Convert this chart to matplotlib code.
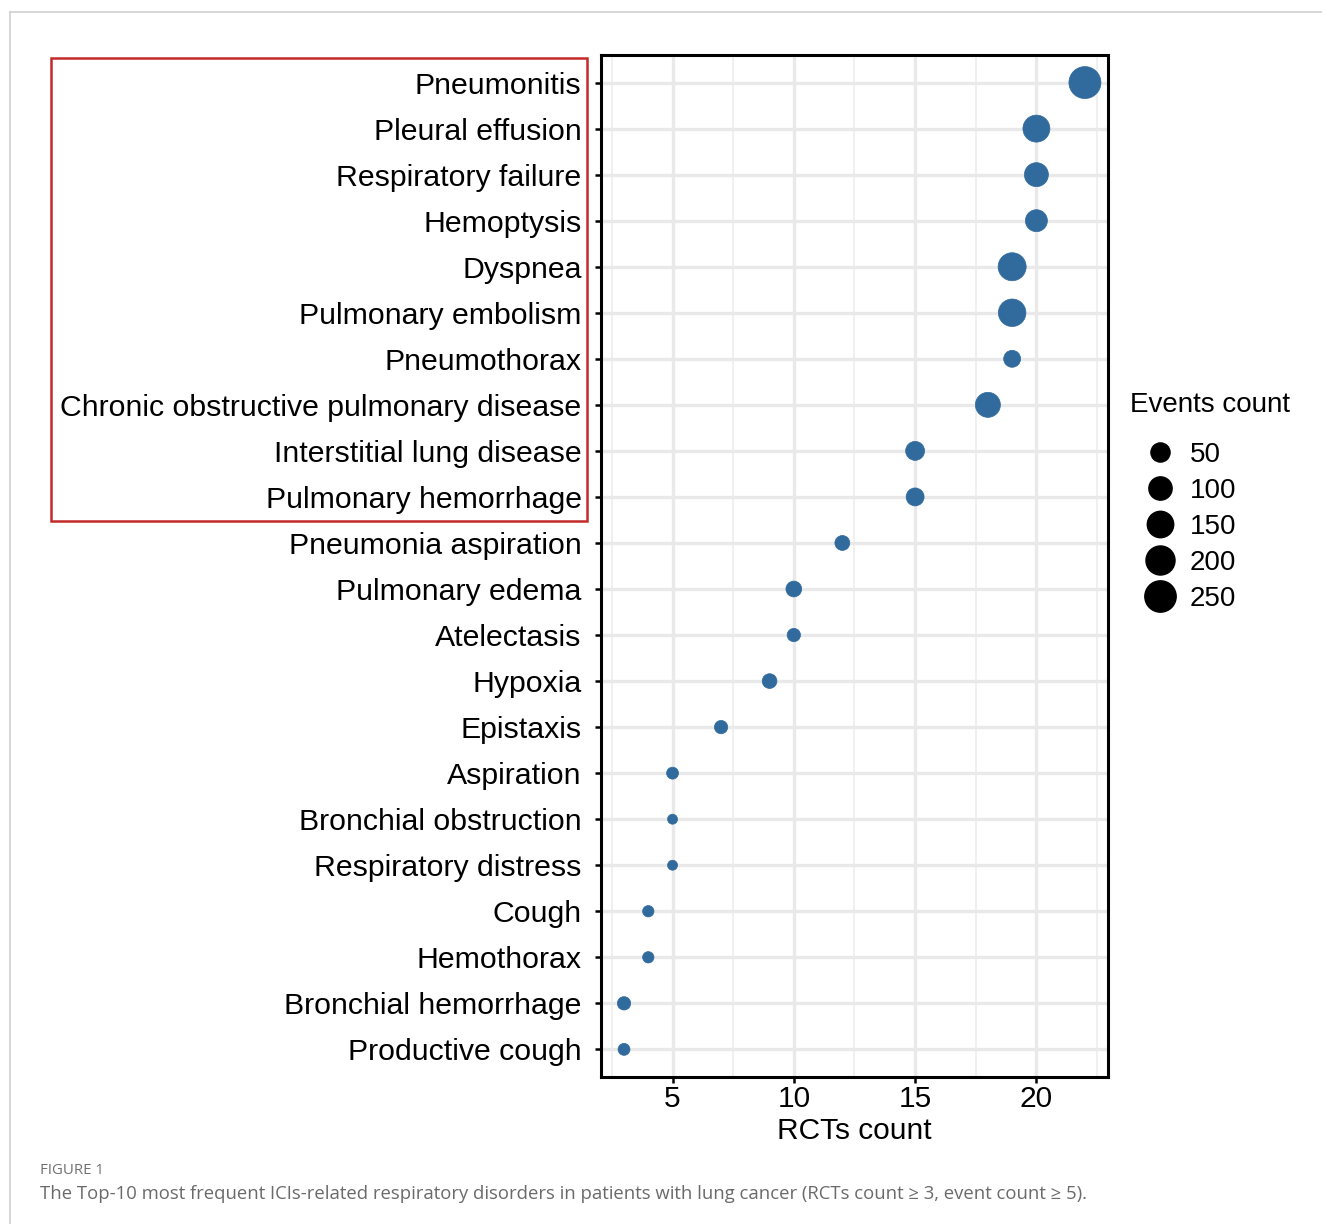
import matplotlib.pyplot as plt
from matplotlib.lines import Line2D
from matplotlib.patches import Rectangle
from matplotlib.ticker import MultipleLocator
import numpy as np

plt.rcParams['font.family'] = ['Liberation Sans', 'DejaVu Sans']

# respiratory adverse events, top to bottom
disorders = ["Pneumonitis", "Pleural effusion", "Respiratory failure", "Hemoptysis",
             "Dyspnea", "Pulmonary embolism", "Pneumothorax",
             "Chronic obstructive pulmonary disease", "Interstitial lung disease",
             "Pulmonary hemorrhage", "Pneumonia aspiration", "Pulmonary edema",
             "Atelectasis", "Hypoxia", "Epistaxis", "Aspiration",
             "Bronchial obstruction", "Respiratory distress", "Cough", "Hemothorax",
             "Bronchial hemorrhage", "Productive cough"]
rcts_count = [22, 20, 20, 20, 19, 19, 19, 18, 15, 15, 12, 10, 10, 9, 7, 5, 5, 5, 4, 4, 3, 3]
events_count = [265, 160, 110, 82, 180, 170, 31, 126, 48, 39, 18, 23, 11, 17, 11, 7,
                5, 5, 6, 6, 11, 7]
legend_breaks = [50, 100, 150, 200, 250]

point_color = "#316a9c"
ev_min, ev_max = 5, 265


def diam_pt(v):
    # area scale: diameter grows with sqrt of events, in points
    v = np.asarray(v, dtype=float)
    px = 10 + 22 * np.sqrt((v - ev_min) / (ev_max - ev_min))
    return px * 0.72


fig = plt.figure(figsize=(13.22, 12.24), dpi=100)
ax = fig.add_axes([0.4546, 0.1201, 0.3835, 0.8350])

ypos = np.arange(len(disorders))[::-1]
ax.scatter(rcts_count, ypos, s=diam_pt(events_count) ** 2, color=point_color,
           edgecolors=point_color, linewidths=0.5, zorder=3)

ax.set_xlim(2.05, 22.95)
ax.set_ylim(-0.6, len(disorders) - 1 + 0.6)
ax.xaxis.set_major_locator(MultipleLocator(5))
ax.xaxis.set_minor_locator(MultipleLocator(2.5))
ax.set_yticks(ypos)
ax.set_yticklabels(disorders)

ax.grid(which="major", color="#e9e9e9", linewidth=2.4, zorder=0)
ax.grid(which="minor", axis="x", color="#eeeeee", linewidth=1.2, zorder=0)
ax.set_axisbelow(True)

for sp in ax.spines.values():
    sp.set_linewidth(2.2)
    sp.set_color("black")

ax.tick_params(axis="y", which="major", length=4, width=1.8, pad=10, labelsize=21.8)
ax.tick_params(axis="x", which="major", length=4, width=1.8, pad=2, labelsize=21.5)
ax.tick_params(axis="x", which="minor", length=0)
ax.set_xlabel("RCTs count", fontsize=21.5, labelpad=3)

# size legend (title drawn on its own)
fig.text(1130 / 1322, 1 - 405 / 1224, "Events count", fontsize=20, va="center")
handles = [Line2D([], [], linestyle="none", marker="o", color="black",
                  markersize=float(diam_pt(b))) for b in legend_breaks]
leg = ax.legend(handles, [str(b) for b in legend_breaks],
                loc="upper left", bbox_to_anchor=(1140.6 / 1322, 1 - 442 / 1224),
                bbox_transform=fig.transFigure, frameon=False, fontsize=20,
                labelspacing=0.36, handletextpad=0.38, borderpad=0,
                borderaxespad=0, handlelength=1.4)

# highlight box around the top 10
fig.patches.append(Rectangle((51 / 1322, 1 - 521 / 1224), 536 / 1322, 463 / 1224,
                             transform=fig.transFigure, fill=False,
                             edgecolor="#c42a2a", linewidth=1.8))

# page frame
fig.add_artist(Line2D([10 / 1322, 10 / 1322], [0, 1 - 12 / 1224],
                      transform=fig.transFigure, color="#cfcfcf", linewidth=1.2))
fig.add_artist(Line2D([10 / 1322, 1], [1 - 12 / 1224, 1 - 12 / 1224],
                      transform=fig.transFigure, color="#cfcfcf", linewidth=1.2))

fig.text(40 / 1322, 1 - 1171 / 1224, "FIGURE 1", fontsize=10.8, color="#707070",
         family=["Open Sans", "DejaVu Sans"], va="center")
fig.text(40 / 1322, 1 - 1194 / 1224,
         "The Top-10 most frequent ICIs-related respiratory disorders in patients with "
         "lung cancer (RCTs count \u2265 3, event count \u2265 5).",
         fontsize=13.3, color="#6a6a6a", family=["Open Sans", "DejaVu Sans"], va="center")

fig.savefig("out.png", dpi=100)
